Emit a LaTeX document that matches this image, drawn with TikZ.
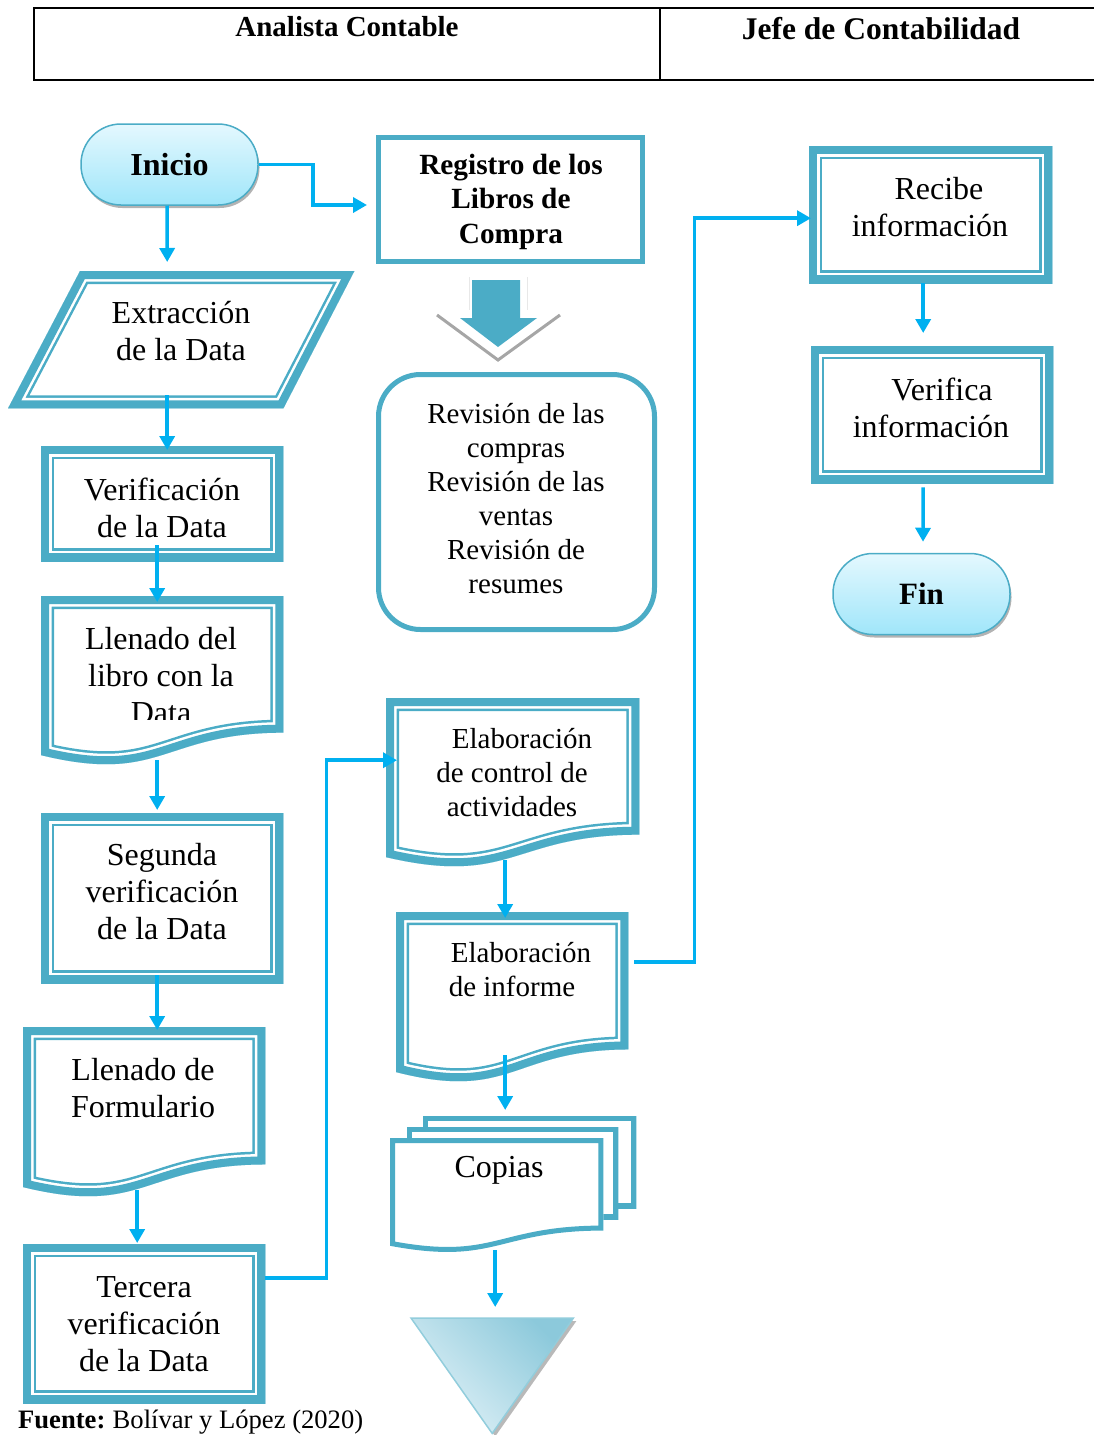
\documentclass[tikz,border=0pt]{standalone}
\usepackage{fontspec}
\setmainfont{Liberation Serif}
\usetikzlibrary{arrows.meta,calc,shadows}
\definecolor{tealb}{RGB}{75,172,198}
\definecolor{arrb}{RGB}{0,176,240}
\definecolor{capsT}{RGB}{228,248,254}
\definecolor{capsB}{RGB}{160,230,250}
\definecolor{triL}{RGB}{224,241,247}
\definecolor{triD}{RGB}{140,201,219}
\definecolor{triE}{RGB}{146,205,220}
\newcommand{\dblframe}[1]{\begin{scope}\clip #1;\draw[tealb,line width=26pt] #1;\draw[white,line width=21pt] #1;\draw[tealb,line width=16pt] #1;\end{scope}}
\newcommand{\sframe}[1]{\begin{scope}\clip #1;\fill[white] #1;\draw[tealb,line width=10pt] #1;\end{scope}}
\newcommand{\docframe}[1]{\dblframe{(#1.north west) -- (#1.north east) -- ($(#1.north east)!0.802!(#1.south east)$) .. controls ($(#1.north)!0.802!(#1.south)$) and ($(#1.north)!1.1075!(#1.south)$) .. ($(#1.north west)!0.934!(#1.south west)$) -- cycle}}
\tikzset{
  lbl/.style={inner sep=0, align=center, font=\fontsize{32pt}{37pt}\selectfont},
  lblm/.style={inner sep=0, align=center, font=\fontsize{29pt}{34pt}\selectfont},
  frame/.style={inner sep=0, anchor=north west},
  arr/.style={draw=arrb, line width=3.5pt, -{Triangle[width=15pt,length=14pt]}},
  pill/.style={rounded corners=40pt, draw=tealb, line width=1.5pt, top color=capsT, bottom color=capsB,
    minimum width=177pt, minimum height=81pt, inner sep=0, font=\bfseries\fontsize{32pt}{37pt}\selectfont,
    drop shadow={shadow xshift=1.5pt, shadow yshift=-3pt, fill=gray, opacity=0.6}},
}
\begin{document}
\begin{tikzpicture}[x=1pt,y=-1pt]
\useasboundingbox (0,0) rectangle (1094,1435);
% header
\draw[line width=2pt] (1100,8) -- (34,8) -- (34,80) -- (1100,80);
\draw[line width=1.5pt] (660,8) -- (660,80);
\node[font=\bfseries\fontsize{29pt}{33pt}\selectfont] (hA) at (347,27) {Analista Contable};
\node[font=\bfseries\fontsize{31.5pt}{36pt}\selectfont] (hJ) at (881,29) {Jefe de Contabilidad};

% Inicio
\node[pill] (ini) at (169.5,164.5) {Inicio};

% Extraccion
\node[frame, minimum width=346pt, minimum height=137pt] (extr) at (8,271) {};
\dblframe{([xshift=72pt]extr.north west) -- (extr.north east) -- ([xshift=-71pt]extr.south east) -- (extr.south west) -- cycle}
\node[lbl] (textr) at (181,331) {Extracción\\de la Data};

% Verificacion
\node[frame, minimum width=242pt, minimum height=115pt] (ver) at (41,446) {};
\dblframe{(ver.north west) rectangle (ver.south east)}
\node[lbl] (tver) at (162,507.5) {Verificación\\de la Data};

% Llenado del libro
\node[frame, minimum width=242pt, minimum height=170pt] (llen) at (41,596) {};
\docframe{llen}
\begin{scope}
\clip (41,590) rectangle (283,719);
\node[lbl] (tllen) at (161,676) {Llenado del\\libro con la\\Data};
\end{scope}

% Segunda
\node[frame, minimum width=242pt, minimum height=170pt] (seg) at (41,813) {};
\dblframe{(seg.north west) rectangle (seg.south east)}
\node[lbl] (tseg) at (162,892) {Segunda\\verificación\\de la Data};

% Formulario
\node[frame, minimum width=242pt, minimum height=171pt] (form) at (23,1027) {};
\docframe{form}
\node[lbl] (tform) at (143,1088.5) {Llenado de\\Formulario};

% Tercera
\node[frame, minimum width=242pt, minimum height=159pt] (terc) at (23,1244) {};
\dblframe{(terc.north west) rectangle (terc.south east)}
\node[lbl] (tterc) at (144,1324) {Tercera\\verificación\\de la Data};

% Registro
\node[draw=tealb, line width=5pt, minimum width=264pt, minimum height=124pt, inner sep=0] (reg) at (510.5,199.5) {};
\node[lblm, font=\bfseries\fontsize{29.3pt}{34.5pt}\selectfont] (treg) at (511,201.5) {Registro de los\\Libros de\\Compra};

% block arrow
\draw[gray!18, line width=1pt] (469,277) -- (469,310) (527,277) -- (527,310);
\draw[gray!70, line width=3pt] (437,315) -- (498,360) -- (560,315);
\fill[tealb] (472,280) -- (520,280) -- (520,318) -- (537,318) -- (498,347) -- (460,318) -- (472,318) -- cycle;

% Revision
\node[draw=tealb, line width=5pt, rounded corners=42pt, minimum width=276pt, minimum height=255pt, inner sep=0] (rev) at (516.5,502) {};
\node[lblm] (trev) at (516,498.5) {Revisión de las\\compras\\Revisión de las\\ventas\\Revisión de\\resumes};

% Elaboracion control
\node[frame, minimum width=253pt, minimum height=170pt] (elabc) at (386,698) {};
\docframe{elabc}
\node[lblm] (telabc) at (512,772.5) {\hspace*{20pt}Elaboración\\de control de\\actividades};

% Elaboracion informe
\node[frame, minimum width=232pt, minimum height=171pt] (inf) at (396,912) {};
\docframe{inf}
\node[lblm] (tinf) at (512,969.5) {\hspace*{18pt}Elaboración\\de informe};

% Copias
\node[frame, minimum width=246pt, minimum height=136pt] (cop) at (390,1116) {};
\node[frame, minimum width=213pt, minimum height=92pt] (copb) at (423,1116) {};
\node[frame, minimum width=211pt, minimum height=92pt] (copm) at (407,1127) {};
\node[frame, minimum width=213pt, minimum height=115pt] (copf) at (390,1138) {};
\sframe{(copb.north west) rectangle (copb.south east)}
\sframe{(copm.north west) rectangle (copm.south east)}
\sframe{(copf.north west) -- (copf.north east) -- ($(copf.north east)!0.802!(copf.south east)$) .. controls ($(copf.north)!0.802!(copf.south)$) and ($(copf.north)!1.1075!(copf.south)$) .. ($(copf.north west)!0.934!(copf.south west)$) -- cycle}
\node[lbl] (tcop) at (499,1170) {Copias};

% Triangle
\node[frame, minimum width=162pt, minimum height=115pt] (tri) at (411,1318) {};
\fill[gray!55] ([shift={(3pt,-3pt)}]tri.north west) -- ([shift={(3pt,-3pt)}]tri.north east) -- ([shift={(3pt,-3pt)}]tri.south) -- cycle;
\path[draw=triE, line width=1.5pt, top color=triD, bottom color=triL, shading angle=-45] (tri.north west) -- (tri.north east) -- (tri.south) -- cycle;

% Right column
\node[frame, minimum width=243pt, minimum height=137pt] (rec) at (809,146) {};
\dblframe{(rec.north west) rectangle (rec.south east)}
\node[lbl] (trec) at (930,207.5) {\hspace*{18pt}Recibe\\información};

\node[frame, minimum width=242pt, minimum height=137pt] (vfi) at (811,346) {};
\dblframe{(vfi.north west) rectangle (vfi.south east)}
\node[lbl] (tvfi) at (931,407.5) {\hspace*{22pt}Verifica\\información};

\node[pill, font=\bfseries\fontsize{31pt}{36pt}\selectfont] (fin) at (921.5,594) {Fin};

% connectors
\draw[arr] ([xshift=-2.5pt]ini.south) -- ([xshift=-14pt,yshift=9pt]extr.north);
\draw[arr] (ini.east) -- ++(54,0) |- ([xshift=-9pt,yshift=-5.5pt]reg.west);
\draw[arr] ([xshift=-14pt,yshift=13pt]extr.south) -- ([xshift=5pt,yshift=-4pt]ver.north);
\draw[arr] ([xshift=-5pt,yshift=16pt]ver.south) -- ([xshift=-5pt,yshift=-6pt]llen.north);
\draw[arr] ([xshift=-5pt,yshift=6pt]llen.south) -- ([xshift=-5pt,yshift=3pt]seg.north);
\draw[arr] ([xshift=-5pt,yshift=8pt]seg.south) -- ([xshift=13pt,yshift=-3pt]form.north);
\draw[arr] ([xshift=-7pt,yshift=8pt]form.south) -- ([xshift=-7pt,yshift=1pt]terc.north);
\draw[arr] ([yshift=45.5pt]terc.east) -- ++(61,0) |- ([xshift=11pt,yshift=23pt]elabc.west);
\draw[arr] ([xshift=-7.5pt,yshift=8pt]elabc.south) -- ([xshift=-7pt,yshift=-6pt]inf.north);
\draw[arr] ([xshift=6pt,yshift=35.5pt]inf.east) -- ++(60,0) |- ([xshift=2pt,yshift=-3.5pt]rec.west);
\draw[arr] ([xshift=-7pt,yshift=28pt]inf.south) -- ([xshift=-8pt,yshift=6pt]cop.north);
\draw[arr] ([xshift=-18pt,yshift=2pt]cop.south) -- ([xshift=3pt,yshift=11pt]tri.north);
\draw[arr] ([xshift=-7.5pt]rec.south) -- ([xshift=-9pt,yshift=13pt]vfi.north);
\draw[arr] ([xshift=-9pt,yshift=-4pt]vfi.south) -- ([xshift=1.5pt,yshift=11pt]fin.north);

% source
\node[anchor=base west, inner sep=0, font=\fontsize{26.6pt}{30pt}\selectfont] (src) at (18,1428) {\textbf{Fuente:}\hspace{-1.5pt} Bolívar y López (2020)};
\end{tikzpicture}
\end{document}
